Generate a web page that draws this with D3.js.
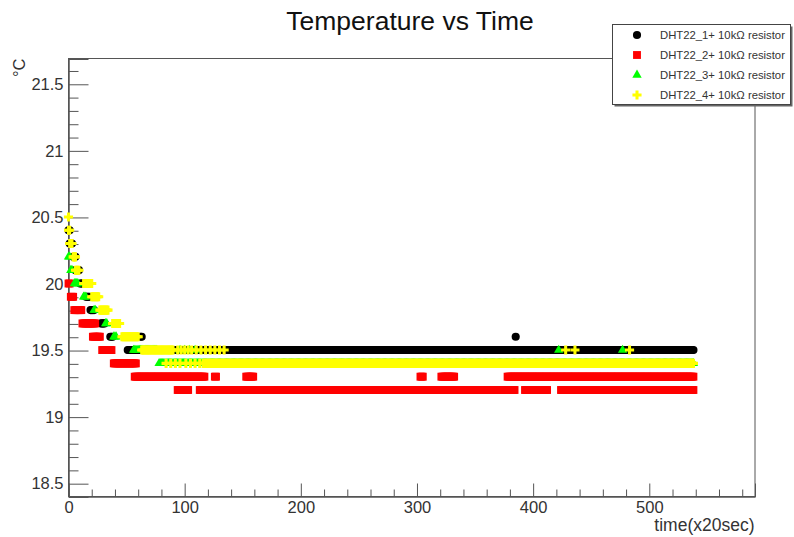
<!DOCTYPE html>
<html>
<head>
<meta charset="utf-8">
<script src="https://cdn.jsdelivr.net/npm/d3@7"></script>
<style>
  html, body { margin: 0; padding: 0; background: #fff; }
  svg { display: block; font-family: "Liberation Sans", Arial, sans-serif; }
</style>
</head>
<body>
<svg id="chart" width="794" height="537"></svg>
<script>
// Series names as shown in the legend
const seriesNames = [
  "DHT22_1+ 10k\u03A9 resistor",
  "DHT22_2+ 10k\u03A9 resistor",
  "DHT22_3+ 10k\u03A9 resistor",
  "DHT22_4+ 10k\u03A9 resistor"
];

// Readings stored as runs: [first sample, last sample, temperature in °C].
// Every sample in a run (one per 20 s) holds the same reading.
const dht1Runs = [
  [0, 1, 20.4], [1, 3, 20.3], [4, 6, 20.2], [6, 9, 20.1], [10, 13, 20.0],
  [15, 18, 19.9], [19, 22, 19.8], [28, 31, 19.7], [36, 38, 19.6], [62, 63, 19.6],
  [51, 538, 19.5], [385, 385, 19.6]
];
const dht2Runs = [
  [0, 1, 20.0], [2, 4, 19.9], [5, 11, 19.8], [12, 23, 19.7], [21, 27, 19.6],
  [29, 37, 19.5], [39, 58, 19.4],
  [57, 117, 19.3], [126, 127, 19.3], [153, 159, 19.3], [303, 305, 19.3],
  [321, 332, 19.3], [378, 538, 19.3],
  [94, 103, 19.2], [113, 384, 19.2], [393, 412, 19.2], [424, 538, 19.2]
];
const dht3Runs = [
  [0, 1, 20.2], [2, 3, 20.1], [5, 8, 20.0], [13, 15, 19.9], [22, 23, 19.8],
  [32, 33, 19.7], [39, 41, 19.6], [56, 76, 19.5],
  [96, 96, 19.5], [100, 100, 19.5], [104, 104, 19.5], [109, 109, 19.5],
  [78, 538, 19.4], [422, 422, 19.5], [477, 477, 19.5]
];
const dht4Runs = [
  [0, 0, 20.5], [0, 1, 20.4], [1, 3, 20.3], [4, 6, 20.2], [6, 9, 20.1],
  [13, 20, 20.0], [20, 26, 19.9], [27, 34, 19.8], [38, 44, 19.7], [46, 60, 19.6],
  [63, 90, 19.5],
  [94, 94, 19.5], [97, 97, 19.5], [100, 100, 19.5], [103, 103, 19.5], [106, 106, 19.5],
  [110, 110, 19.5], [114, 114, 19.5], [118, 118, 19.5], [122, 122, 19.5],
  [126, 126, 19.5], [130, 130, 19.5], [134, 134, 19.5],
  [84, 84, 19.4], [88, 88, 19.4], [92, 92, 19.4], [96, 96, 19.4], [101, 101, 19.4],
  [105, 105, 19.4], [109, 109, 19.4], [113, 113, 19.4], [116, 538, 19.4],
  [428, 428, 19.5], [436, 436, 19.5], [483, 483, 19.5]
];

// Axis ticks
const xMajorTicks = [0, 100, 200, 300, 400, 500];
const xTickLabels = ["0", "100", "200", "300", "400", "500"];
const xMinorTicks = [20, 40, 60, 80, 120, 140, 160, 180, 220, 240, 260, 280,
  320, 340, 360, 380, 420, 440, 460, 480, 520, 540, 560, 580];
const yMajorTicks = [18.5, 19, 19.5, 20, 20.5, 21, 21.5];
const yTickLabels = ["18.5", "19", "19.5", "20", "20.5", "21", "21.5"];
const yMinorTicks = [18.6, 18.7, 18.8, 18.9, 19.1, 19.2, 19.3, 19.4, 19.6, 19.7,
  19.8, 19.9, 20.1, 20.2, 20.3, 20.4, 20.6, 20.7, 20.8, 20.9, 21.1, 21.2, 21.3,
  21.4, 21.6];

const svg = d3.select("#chart");
const plotLeft = 68, plotRight = 754.5, plotTop = 58.5, plotBottom = 496.5;

const x = d3.scaleLinear().domain([0, 591]).range([plotLeft, plotRight]);
const y = d3.scaleLinear().domain([18.4, 21.69]).range([plotBottom, plotTop]);

// Marker styles per series
const series = [
  { name: seriesNames[0], runs: dht1Runs, color: "#000000", symbol: d3.symbolCircle, size: 52 },
  { name: seriesNames[1], runs: dht2Runs, color: "#ff0000", symbol: d3.symbolSquare, size: 62 },
  { name: seriesNames[2], runs: dht3Runs, color: "#00ff00", symbol: d3.symbolTriangle, size: 38 },
  { name: seriesNames[3], runs: dht4Runs, color: "#ffff00", symbol: d3.symbolCross, size: 46 }
];

function expandRuns(runs) {
  const pts = [];
  runs.forEach(([t0, t1, v]) => {
    for (let t = t0; t <= t1; t++) pts.push({ t: t, v: v });
  });
  return pts;
}

// Frame
svg.append("rect")
  .attr("x", plotLeft + 0.5).attr("y", plotTop)
  .attr("width", plotRight - plotLeft).attr("height", plotBottom - plotTop)
  .attr("fill", "none").attr("stroke", "#555").attr("stroke-width", 1);

// Title
svg.append("text")
  .attr("x", 410).attr("y", 30)
  .attr("text-anchor", "middle")
  .attr("font-size", 26.5)
  .attr("fill", "#111")
  .text("Temperature vs Time");

// X axis: major ticks with labels, minor ticks without
svg.append("g").attr("transform", `translate(0.5,${plotBottom})`)
  .call(d3.axisBottom(x).tickValues(xMajorTicks)
    .tickFormat((d, i) => xTickLabels[i]).tickSize(-13).tickPadding(5));
svg.append("g").attr("transform", `translate(0.5,${plotBottom})`)
  .call(d3.axisBottom(x).tickValues(xMinorTicks).tickFormat("").tickSize(-7));

// Y axis
svg.append("g").attr("transform", `translate(${plotLeft + 0.5},0.5)`)
  .call(d3.axisLeft(y).tickValues(yMajorTicks)
    .tickFormat((d, i) => yTickLabels[i]).tickSize(-20).tickPadding(5));
svg.append("g").attr("transform", `translate(${plotLeft + 0.5},0.5)`)
  .call(d3.axisLeft(y).tickValues(yMinorTicks).tickFormat("").tickSize(-10));

svg.selectAll(".domain").attr("stroke", "#555");
svg.selectAll(".tick line").attr("stroke", "#555");
svg.selectAll(".tick text")
  .attr("font-size", 16.5)
  .attr("fill", "#333")
  .attr("font-family", "'Liberation Sans', Arial, sans-serif");

// Axis titles
svg.append("text")
  .attr("x", plotRight).attr("y", 531)
  .attr("text-anchor", "end")
  .attr("font-size", 17.5)
  .attr("fill", "#333")
  .text("time(x20sec)");

svg.append("text")
  .attr("transform", `translate(25,${plotTop}) rotate(-90)`)
  .attr("text-anchor", "end")
  .attr("font-size", 16.5)
  .attr("fill", "#333")
  .text("\u00B0C");

// Data markers, drawn in series order
series.forEach(s => {
  const sym = d3.symbol().type(s.symbol).size(s.size);
  svg.append("g")
    .selectAll("path")
    .data(expandRuns(s.runs))
    .join("path")
    .attr("d", sym)
    .attr("transform", d => `translate(${x(d.t) + 0.5},${y(d.v)})`)
    .attr("fill", s.color);
});

// Legend with shadow
const lg = { x: 612.5, y: 24.5, w: 178, h: 80 };
svg.append("rect")
  .attr("x", lg.x + 2).attr("y", lg.y + 2)
  .attr("width", lg.w).attr("height", lg.h)
  .attr("fill", "#666");
svg.append("rect")
  .attr("x", lg.x).attr("y", lg.y)
  .attr("width", lg.w).attr("height", lg.h)
  .attr("fill", "#fff").attr("stroke", "#444").attr("stroke-width", 1);

const legendRows = [35, 55, 75, 95];
series.forEach((s, i) => {
  const sym = d3.symbol().type(s.symbol).size(s.size);
  svg.append("path")
    .attr("d", sym)
    .attr("transform", `translate(637,${legendRows[i]})`)
    .attr("fill", s.color);
  svg.append("text")
    .attr("x", 660).attr("y", legendRows[i] + 4)
    .attr("font-size", 11.3)
    .attr("fill", "#333")
    .text(s.name);
});
</script>
</body>
</html>
